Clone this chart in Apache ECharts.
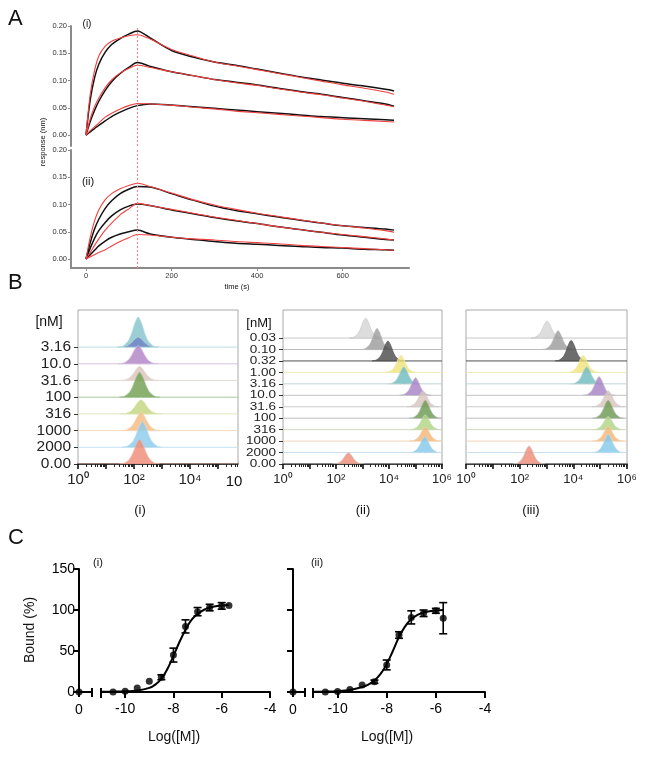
<!DOCTYPE html>
<html><head><meta charset="utf-8">
<script src="https://cdn.jsdelivr.net/npm/echarts@6/dist/echarts.min.js"></script>
<style>html,body{margin:0;padding:0;background:#fff}#c{width:650px;height:762px}</style>
</head><body><div id="c"></div>
<script>
// ===================== DATA =====================
// Panel A: sensorgrams, response (nm) vs time (s)
const aTime = [0,10,20,30,45,60,80,100,120,150,200,250,300,350,400,450,500,550,600,650,700,720];
// (i)
const a1HighData = [0,0.065,0.105,0.130,0.152,0.166,0.177,0.185,0.191,0.178,0.155,0.143,0.134,0.128,0.121,0.114,0.107,0.101,0.095,0.090,0.084,0.081];
const a1HighFit  = [0,0.075,0.118,0.145,0.163,0.172,0.178,0.182,0.184,0.176,0.157,0.145,0.134,0.127,0.120,0.113,0.106,0.099,0.092,0.086,0.079,0.075];
const a1MidData  = [0,0.025,0.045,0.062,0.082,0.098,0.113,0.124,0.133,0.126,0.116,0.109,0.102,0.097,0.092,0.086,0.080,0.075,0.069,0.063,0.057,0.053];
const a1MidFit   = [0,0.030,0.052,0.068,0.087,0.101,0.114,0.122,0.128,0.124,0.116,0.109,0.102,0.096,0.091,0.085,0.079,0.074,0.068,0.062,0.055,0.052];
const a1LowData  = [0,0.006,0.012,0.018,0.026,0.034,0.042,0.049,0.054,0.057,0.055,0.052,0.049,0.046,0.043,0.040,0.037,0.034,0.032,0.030,0.028,0.027];
const a1LowFit   = [0,0.008,0.015,0.022,0.033,0.040,0.048,0.054,0.058,0.057,0.055,0.051,0.048,0.044,0.041,0.038,0.035,0.032,0.029,0.027,0.025,0.024];
// (ii)
const a2HighData = [0,0.030,0.055,0.073,0.093,0.107,0.120,0.128,0.133,0.132,0.120,0.108,0.097,0.089,0.083,0.077,0.071,0.066,0.061,0.058,0.055,0.053];
const a2HighFit  = [0,0.040,0.070,0.090,0.109,0.120,0.129,0.135,0.139,0.133,0.121,0.109,0.099,0.091,0.084,0.078,0.072,0.066,0.061,0.057,0.052,0.049];
const a2MidData  = [0,0.020,0.038,0.052,0.067,0.079,0.090,0.097,0.101,0.098,0.090,0.083,0.076,0.070,0.065,0.059,0.054,0.049,0.044,0.040,0.036,0.035];
const a2MidFit   = [0,0.012,0.025,0.037,0.053,0.066,0.081,0.092,0.102,0.098,0.091,0.084,0.077,0.071,0.065,0.059,0.054,0.049,0.045,0.041,0.037,0.035];
const a2LowData  = [0,0.008,0.016,0.024,0.033,0.040,0.046,0.050,0.053,0.046,0.040,0.036,0.032,0.029,0.027,0.025,0.023,0.021,0.020,0.018,0.017,0.016];
const a2LowFit   = [0,0.004,0.008,0.012,0.017,0.024,0.032,0.039,0.045,0.044,0.040,0.037,0.035,0.032,0.030,0.028,0.025,0.023,0.021,0.019,0.017,0.016];
const aInjectionEnd = 120;
const aXTicks = [0,200,400,600];
const aYTicks = [0,0.05,0.10,0.15,0.20];

// Panel B: flow cytometry histograms (peak centre = log10 fluorescence, height in row units)
const peakOffsets = [-0.6,-0.45,-0.3,-0.2,-0.1,0,0.1,0.2,0.3,0.45,0.6];
const peakProfile = [0,0.04,0.2,0.45,0.8,1,0.8,0.45,0.2,0.04,0];
const bConcI    = ['3.16','10.0','31.6','100','316','1000','2000','0.00'];
const bCenterI  = [2.15,2.15,2.2,2.2,2.25,2.25,2.3,2.2];
const bHeightI  = [1.8,1.1,0.85,1.5,0.85,1.1,1.55,1.45];
const bSpreadI  = 1.2;
const bOverlayI = {row:'3.16', center:2.15, height:0.6};
const bConc     = ['0.03','0.10','0.32','1.00','3.16','10.0','31.6','100','316','1000','2000','0.00'];
const bCenterII = [3.12,3.55,3.96,4.45,4.56,5.0,5.28,5.37,5.37,5.37,5.35,2.47];
const bHeightII = [1.75,1.85,1.75,1.5,1.5,1.55,1.4,1.6,1.3,1.25,1.4,1.0];
const bCenterIII= [3.02,3.43,3.92,4.37,4.5,4.96,5.3,5.3,5.3,5.3,5.3,2.35];
const bHeightIII= [1.5,1.65,1.8,1.5,1.5,1.65,1.4,1.6,1.15,1.3,1.6,1.6];
const bSpreadII = 1.0;
const bXLabels  = [0,2,4,6];

// Panel C: binding curves, Bound (%) vs Log([M])
const cLog    = [-10.5,-10,-9.5,-9,-8.5,-8,-7.5,-7,-6.5,-6,-5.7];
const c1Mean  = [0,1,5,13,18,45,80,98,103,105,105.5];
const c1Err   = [0,0,0,0,3,8.5,8,5,4,4,0];
const c1Zero  = 0;
const c2Mean  = [0,0.5,3,8.5,12.5,33,69.5,91,96,99,90];
const c2Err   = [0,0,0,0,2,6,4,8,4,3,19];
const c2Zero  = 0;
const fitLog  = [-11,-10.5,-10,-9.5,-9,-8.75,-8.5,-8.25,-8,-7.75,-7.5,-7.25,-7,-6.75,-6.5,-6.25,-6,-5.7];
const fit1    = [0.2,0.4,0.8,1.8,5,9,16,28,44,61,76,88,95,100,103,104.5,105.5,106];
const fit2    = [0.2,0.4,1,2.5,6,9,14,22,34,50,67,80,89,94,97,98.5,99.5,100];
const cXLabels = [-10,-8,-6,-4];
const cYTicks  = [0,50,100,150];

// ===================== STYLES =====================
const FONT = '"Liberation Sans", Arial, sans-serif';
const colI   = ['#86c5cc','#b184c6','#dcc4bd','#72a052','#c3d67e','#f5bb80','#8ccbeb','#ef8b77'];
const lineI  = ['#b9dde0','#d9c4e2','#e6dad5','#a9c79a','#dfe8bd','#f6dcc0','#c3e3f3','#f1b6aa'];
const colB   = ['#d6d6d6','#9c9c9c','#4d4d4d','#efe47a','#6fbcbf','#a781c6','#dbc6be','#6c9a52','#b0d585','#f5b777','#85c9ec','#ef8b77'];
const lineB  = ['#c8c8c8','#bdbdbd','#505050','#efe9b5','#c0d4d6','#c4c4c4','#cbcbcb','#bfbfbf','#d0dbc0','#f1d6b6','#c8def0','#cacaca'];
const sup = {0:'\u2070',2:'\u00B2',4:'\u2074',6:'\u2076'};

// ===================== BUILD =====================
const grids=[], xAxes=[], yAxes=[], series=[], texts=[];
const addGrid=g=>(grids.push(g),grids.length-1);
const addX=a=>(xAxes.push(a),xAxes.length-1);
const addY=a=>(yAxes.push(a),yAxes.length-1);
const mkTxt=(s,x,y,size,opt={})=>Object.assign({type:'text',x,y,silent:true,style:{text:s,font:(opt.weight||'normal')+' '+size+'px '+FONT,fill:opt.fill||'#111',align:opt.align||'center',verticalAlign:'middle'}}, opt.rot?{rotation:opt.rot}:{}, opt.sy?{scaleY:opt.sy}:{});
const txt=(...a)=>texts.push(mkTxt(...a));
const lateLabels=[];

// ---- Panel A ----
const gray='#8a8a8a';
function sensorGrid(top,height,ymin,showX){
  const g=addGrid({left:71,top,width:338,height});
  const xi=addX({gridIndex:g,type:'value',min:-35,max:755,show:showX,
    axisLine:{onZero:false,lineStyle:{color:gray,width:2}},
    axisTick:{customValues:aXTicks,length:3,lineStyle:{color:gray}},
    axisLabel:{customValues:aXTicks,fontSize:7.5,color:'#333',margin:4,fontFamily:FONT},
    splitLine:{show:false}});
  const yi=addY({gridIndex:g,type:'value',min:ymin,max:0.2,
    axisLine:{show:true,onZero:false,lineStyle:{color:gray,width:2}},
    axisTick:{show:true,customValues:aYTicks,length:3,lineStyle:{color:gray}},
    axisLabel:{customValues:aYTicks,showMinLabel:true,showMaxLabel:true,formatter:v=>v.toFixed(2),fontSize:7.5,color:'#333',margin:4,fontFamily:FONT},
    splitLine:{show:false}});
  return [xi,yi];
}
function sensorSeries(ax, dataArrs, fitArrs){
  dataArrs.forEach((arr,k)=>series.push({type:'line',xAxisIndex:ax[0],yAxisIndex:ax[1],symbol:'none',smooth:0.3,clip:false,
    data:aTime.map((t,i)=>[t,arr[i]]),lineStyle:{color:'#111',width:1.5},z:3,
    markLine:k===0?{silent:true,symbol:'none',label:{show:false},lineStyle:{color:'#f08a8a',type:[2,2],width:1.2},data:[{xAxis:aInjectionEnd}]}:undefined}));
  fitArrs.forEach(arr=>series.push({type:'line',xAxisIndex:ax[0],yAxisIndex:ax[1],symbol:'none',smooth:0.3,clip:false,
    data:aTime.map((t,i)=>[t,arr[i]]),lineStyle:{color:'#f04040',width:1.1},z:4}));
}
const axA1=sensorGrid(26,120,-0.02,false);
const axA2=sensorGrid(150,118,-0.0165,true);
sensorSeries(axA1,[a1HighData,a1MidData,a1LowData],[a1HighFit,a1MidFit,a1LowFit]);
sensorSeries(axA2,[a2HighData,a2MidData,a2LowData],[a2HighFit,a2MidFit,a2LowFit]);
txt('A',8,19,22,{align:'left'});
txt('(i)',87,24,10);
txt('(ii)',88,182,11);
txt('response (nm)',43,142,7.5,{rot:Math.PI/2});
txt('time (s)',237,287,7.5);

// ---- Panel B ----
const majorTicks=[0,1,2,3,4,5,6];
const minorTicks=[];
for(let d=0;d<6;d++) for(let k=2;k<=9;k++) minorTicks.push(d+Math.log10(k));
function ridgePanel(o){
  const g=addGrid({left:o.left,top:310,width:o.width,height:154,show:true,borderColor:'#a8a8a8',borderWidth:1});
  const xi=addX({gridIndex:g,type:'value',min:0,max:o.xmax,position:'bottom',
    axisLine:{show:true,onZero:false,lineStyle:{color:'#111',width:1.5}},
    axisTick:{customValues:majorTicks.filter(v=>v<=o.xmax+1e-9),length:5,lineStyle:{color:'#111',width:1.6}},
    axisLabel:{customValues:bXLabels.filter(v=>v<=o.xmax+1e-9),showMinLabel:true,showMaxLabel:true,formatter:v=>'10'+sup[v],fontSize:o.xfs,color:'#222',margin:o.xmargin,fontFamily:FONT},
    splitLine:{show:false}});
  addX({gridIndex:g,type:'value',min:0,max:o.xmax,position:'bottom',
    axisLine:{show:false,onZero:false},
    axisTick:{customValues:minorTicks.filter(v=>v<=o.xmax),length:3,lineStyle:{color:'#222',width:1}},
    axisLabel:{show:false},splitLine:{show:false}});
  const n=o.rows.length;
  const rowIdx=o.rows.map((_,k)=>k);
  const yi=addY({gridIndex:g,type:'value',min:0,max:o.ymax,
    axisLine:{show:false,onZero:false},
    axisTick:{show:o.labels,customValues:rowIdx,length:4,lineStyle:{color:'#333'}},
    axisLabel:{show:false},
    splitLine:{show:false}});
  if(o.labels) rowIdx.forEach(r=>lateLabels.push({yi,r,text:o.rows[n-1-r],x:o.left-7,size:o.yfs,sy:o.ysy}));
  // items: [row index, centre, height, style index, overlay flag]
  const items=[];
  o.rows.forEach((lab,k)=>{
    items.push([n-1-k,o.centers[k],o.heights[k],k,0]);
    if(o.overlay && o.overlay.row===lab) items.push([n-1-k,o.overlay.center,o.overlay.height,k,1]);
  });
  const xmax=o.xmax;
  series.push({type:'custom',xAxisIndex:xi,yAxisIndex:yi,data:items,silent:true,clip:true,
    encode:{x:1,y:0},
    renderItem(p,api){
      const r=api.value(0),c=api.value(1),h=api.value(2),k=api.value(3),ov=api.value(4);
      const fill=ov?'#6f83c4':o.colors[k], lc=o.lines[k];
      const pts=peakOffsets.map((off,i)=>api.coord([c+off*o.spread,r+peakProfile[i]*h]));
      const children=[];
      if(!ov){ const a=api.coord([0,r]), b=api.coord([xmax,r]);
        children.push({type:'line',shape:{x1:a[0],y1:a[1],x2:b[0],y2:b[1]},style:{stroke:lc,lineWidth:1}}); }
      children.push({type:'polygon',shape:{points:pts,smooth:0.25},style:{fill,opacity:0.82,stroke:lc,lineWidth:0.8}});
      return {type:'group',children};
    }});
}
ridgePanel({left:78,width:160,xmax:160/28,ymax:154/16.7,rows:bConcI,centers:bCenterI,heights:bHeightI,spread:bSpreadI,colors:colI,lines:lineI,overlay:bOverlayI,labels:true,yfs:15.5,ysy:0.95,xfs:15,xmargin:8});
ridgePanel({left:283,width:159,xmax:6,ymax:154/11.45,rows:bConc,centers:bCenterII,heights:bHeightII,spread:bSpreadII,colors:colB,lines:lineB,labels:true,yfs:13.5,ysy:0.85,xfs:13,xmargin:9});
ridgePanel({left:466,width:161,xmax:6,ymax:154/11.45,rows:bConc,centers:bCenterIII,heights:bHeightIII,spread:bSpreadII,colors:colB,lines:lineB,labels:false,yfs:12,xfs:13,xmargin:9});
txt('B',8,283,22,{align:'left'});
txt('[nM]',49,322,14);
txt('[nM]',259,323,13);
txt('10',234,482,15);
txt('(i)',140,510,13);
txt('(ii)',363,510,13);
txt('(iii)',531,510,13);

// ---- Panel C ----
function dosePanel(o){
  const g1=addGrid({left:o.l1,top:569,width:o.w1,height:123});
  const g2=addGrid({left:o.l2,top:569,width:o.w2,height:123});
  const axisBlack={show:true,onZero:false,lineStyle:{color:'#000',width:2}};
  const x1=addX({gridIndex:g1,type:'value',min:0,max:1,position:'bottom',axisLine:axisBlack,
    axisTick:{customValues:[0,1],length:5,lineStyle:{color:'#000',width:2}},
    axisLabel:{customValues:[0],fontSize:14,color:'#000',margin:11,fontFamily:FONT},splitLine:{show:false}});
  addX({gridIndex:g1,type:'value',min:0,max:1,position:'bottom',axisLine:{show:false,onZero:false},
    axisTick:{inside:true,customValues:[1],length:4,lineStyle:{color:'#000',width:2}},axisLabel:{show:false},splitLine:{show:false}});
  const y1=addY({gridIndex:g1,type:'value',min:0,max:150,interval:50,
    axisLine:axisBlack,axisTick:{show:true,customValues:cYTicks,length:6,lineStyle:{color:'#000',width:2}},
    axisLabel:{show:o.ylabels,customValues:cYTicks,fontSize:14,color:'#000',margin:4,fontFamily:FONT},splitLine:{show:false}});
  const x2=addX({gridIndex:g2,type:'value',min:-11,max:-4,position:'bottom',axisLine:axisBlack,
    axisTick:{customValues:[-11,...cXLabels],length:6,lineStyle:{color:'#000',width:2}},
    axisLabel:{customValues:cXLabels,fontSize:14,color:'#000',margin:10,fontFamily:FONT},splitLine:{show:false}});
  addX({gridIndex:g2,type:'value',min:-11,max:-4,position:'bottom',axisLine:{show:false,onZero:false},
    axisTick:{inside:true,customValues:[-11],length:4,lineStyle:{color:'#000',width:2}},axisLabel:{show:false},splitLine:{show:false}});
  const y2=addY({gridIndex:g2,type:'value',min:0,max:150,show:false});
  series.push({type:'scatter',xAxisIndex:x1,yAxisIndex:y1,clip:false,symbolSize:7,itemStyle:{color:'#000'},data:[[0,o.zero]],z:5});
  series.push({type:'line',xAxisIndex:x2,yAxisIndex:y2,clip:false,symbol:'none',smooth:0.4,
    data:fitLog.map((x,i)=>[x,o.fit[i]]),lineStyle:{color:'#000',width:2},z:3});
  series.push({type:'scatter',xAxisIndex:x2,yAxisIndex:y2,clip:false,symbolSize:7,itemStyle:{color:'#000'},
    data:cLog.map((x,i)=>[x,o.mean[i]]),z:5});
  const ed=[];
  cLog.forEach((x,i)=>{ if(o.err[i]>0) ed.push([x,o.mean[i]-o.err[i],o.mean[i]+o.err[i]]); });
  series.push({type:'custom',xAxisIndex:x2,yAxisIndex:y2,data:ed,z:4,clip:false,encode:{x:0,y:[1,2]},
    renderItem(p,api){
      const x=api.value(0), lo=api.coord([x,api.value(1)]), hi=api.coord([x,api.value(2)]), w=4;
      const st={stroke:'#000',lineWidth:1.6};
      return {type:'group',children:[
        {type:'line',shape:{x1:lo[0],y1:lo[1],x2:hi[0],y2:hi[1]},style:st},
        {type:'line',shape:{x1:lo[0]-w,y1:lo[1],x2:lo[0]+w,y2:lo[1]},style:st},
        {type:'line',shape:{x1:hi[0]-w,y1:hi[1],x2:hi[0]+w,y2:hi[1]},style:st}]};
    }});
}
dosePanel({l1:79,w1:13,l2:101,w2:169,ylabels:true,mean:c1Mean,err:c1Err,zero:c1Zero,fit:fit1});
dosePanel({l1:293,w1:12,l2:313,w2:172,ylabels:false,mean:c2Mean,err:c2Err,zero:c2Zero,fit:fit2});
txt('C',8,538,22,{align:'left'});
txt('(i)',98,563,11);
txt('(ii)',317,563,11);
txt('Bound (%)',30,630,14,{rot:Math.PI/2});
txt('Log([M])',174,737,14);
txt('Log([M])',387,737,14);

const chart=echarts.init(document.getElementById('c'),null,{renderer:'canvas'});
chart.setOption({animation:false,backgroundColor:'#fff',textStyle:{fontFamily:FONT},
  grid:grids,xAxis:xAxes,yAxis:yAxes,series,graphic:{elements:texts}});
// row labels of the ridge plots, placed through the y axis scale
const rowTexts=lateLabels.map(l=>{
  const y=chart.convertToPixel({yAxisIndex:l.yi},l.r);
  return mkTxt(l.text,l.x,y,l.size,{align:'right',fill:'#222',sy:l.sy});
});
chart.setOption({graphic:{elements:texts.concat(rowTexts)}});
</script></body></html>
